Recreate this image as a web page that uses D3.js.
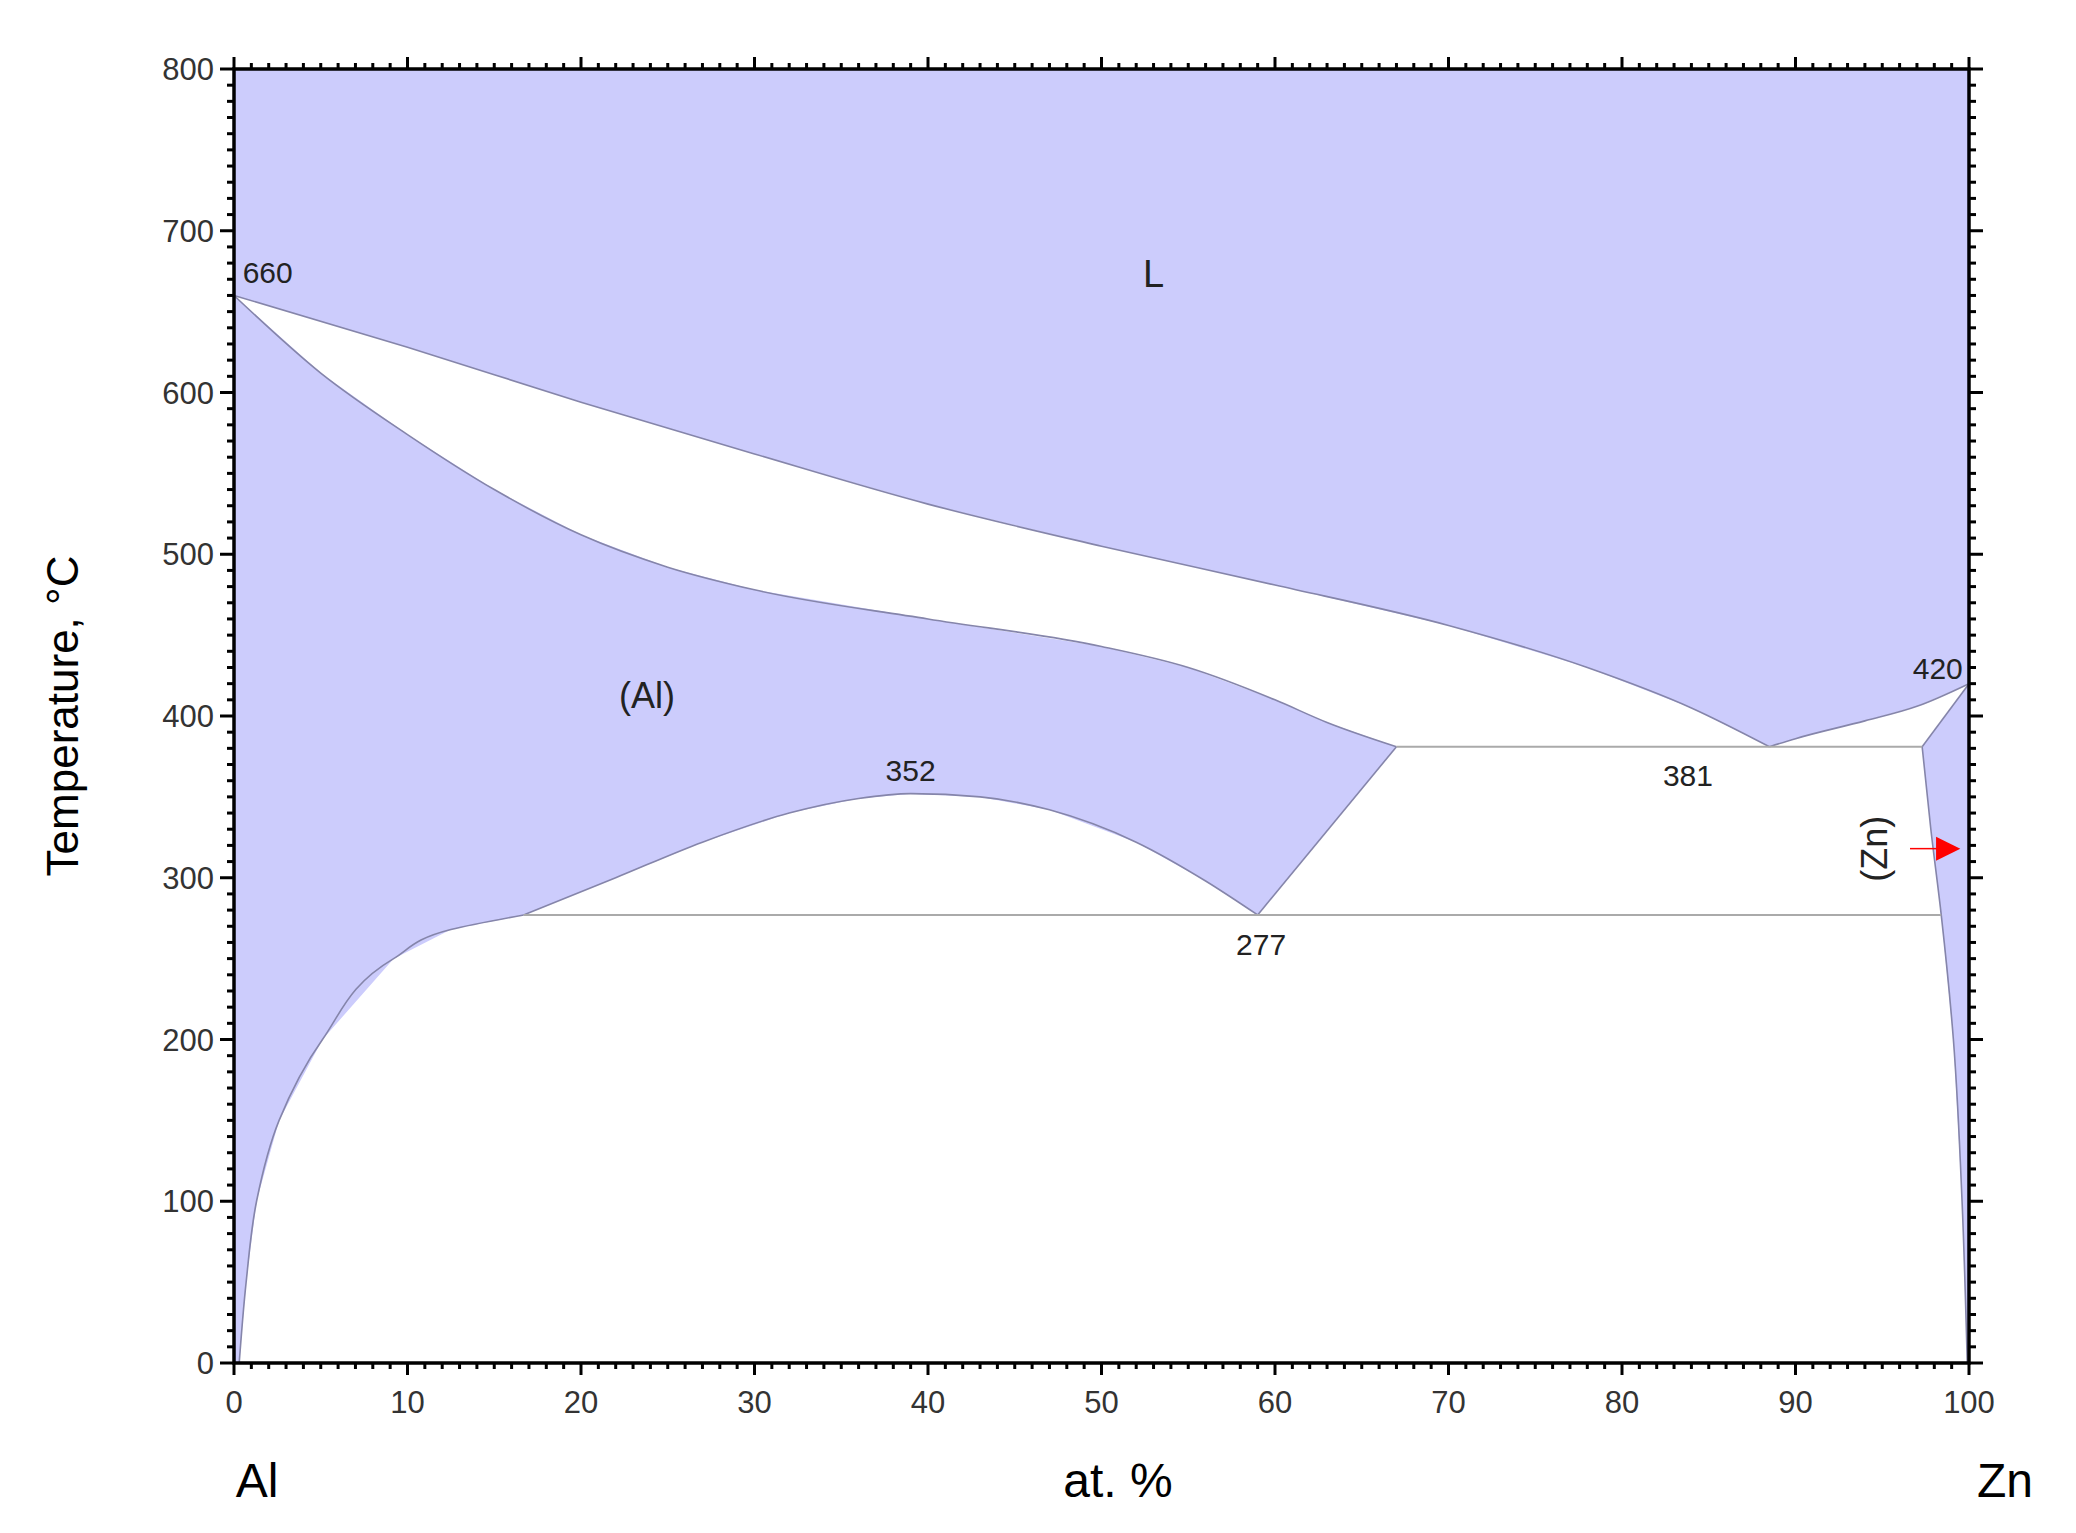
<!DOCTYPE html>
<html><head><meta charset="utf-8">
<script src="https://cdn.jsdelivr.net/npm/d3@7"></script>
<style>body{margin:0;background:#fff}text{font-family:Arial,"Liberation Sans",sans-serif}</style>
</head><body><div id="chart"></div>
<script>
// phase boundaries: [at.% Zn, temperature °C]
const liquidusAl = [[0,660],[10,628],[20,594],[30,562],[40,531],[50,505],[60,481],[70,456],[78,430],[84,405],[88.5,381]]
const liquidusZnSide = [[88.5,381],[90,386],[94,397],[97,406],[100,420]]
const solidusAl = [[0,660],[5,612],[10,574],[15,540],[20,512],[25,492],[30,478],[40,460],[50,443],[55,430],[60,410],[63,396],[67,381]]
const solvusAl = [[0.3,0],[0.7,50],[1.3,100],[2.6,150],[5.1,200],[9.2,250],[12.5,268],[16.7,277]]
const gap = [[16.7,277],[22,300],[27,322],[32,340],[36,349],[39,352],[43,350],[47,342],[52,322],[56,298],[59,277]]
const gapToEut = [[59,277],[67,381]]
const solvusZn = [[97.3,381],[97.8,330],[98.4,277],[99.1,200],[99.6,100],[99.9,0]]
const liquidusZn = [[100,420],[97.3,381]]
const eutectic = [[67,381],[97.3,381]]
const eutectoid = [[16.7,277],[98.4,277]]
const labels = [
  {t:'660', x:0.5, y:668, size:30, anchor:'start'},
  {t:'L', x:53, y:665, size:38, anchor:'middle'},
  {t:'(Al)', x:23.8, y:405, size:36, anchor:'middle'},
  {t:'352', x:39, y:360, size:30, anchor:'middle'},
  {t:'277', x:59.2, y:252, size:30, anchor:'middle'},
  {t:'381', x:83.8, y:357, size:30, anchor:'middle'},
  {t:'420', x:98.2, y:423, size:30, anchor:'middle'}
]
const xTicks = d3.range(0, 101, 10)
const yTicks = d3.range(0, 801, 100)

const W = 2076, H = 1533
const m = {left: 234, right: 107, top: 69, bottom: 170}
const svg = d3.select('#chart').append('svg').attr('width', W).attr('height', H)
const x = d3.scaleLinear().domain([0, 100]).range([m.left, W - m.right])
const y = d3.scaleLinear().domain([0, 800]).range([H - m.bottom, m.top])
const line = d3.line().x(d => x(d[0])).y(d => y(d[1]))
const curve = d3.line().x(d => x(d[0])).y(d => y(d[1])).curve(d3.curveMonotoneX)
const curveY = d3.line().x(d => x(d[0])).y(d => y(d[1])).curve(d3.curveMonotoneY)

const fill = '#ccccfc', edge = '#8585aa'
svg.append('rect').attr('x', x(0)).attr('y', y(800)).attr('width', x(100) - x(0)).attr('height', y(0) - y(800)).attr('fill', fill)

// white two-phase regions
const upper = liquidusAl.concat(liquidusZnSide.slice(1), [[97.3,381]], solidusAl.slice().reverse())
svg.append('path').attr('d', line(upper)).attr('fill', '#fff')
const lower = [].concat(eutectic, solvusZn, solvusAl, gap, gapToEut)
svg.append('path').attr('d', line(lower)).attr('fill', '#fff')

const bounds = svg.append('g').attr('fill', 'none').attr('stroke', edge).attr('stroke-width', 1.6)
;[liquidusAl, liquidusZnSide, solidusAl, gap, gapToEut, liquidusZn].forEach(p => bounds.append('path').attr('d', curve(p)))
;[solvusAl, solvusZn].forEach(p => bounds.append('path').attr('d', curveY(p)))
;[eutectic, eutectoid].forEach(p => svg.append('path').attr('d', line(p)).attr('fill', 'none').attr('stroke', '#aaa').attr('stroke-width', 2))

// axes
const ax = svg.append('g').attr('stroke', '#000')
ax.append('rect').attr('x', x(0)).attr('y', y(800)).attr('width', x(100) - x(0)).attr('height', y(0) - y(800)).attr('fill', 'none').attr('stroke-width', 3.5)
d3.range(0, 101, 1).forEach(v => {
  const L = v % 10 === 0 ? 12 : 6
  ax.append('line').attr('x1', x(v)).attr('x2', x(v)).attr('y1', y(0)).attr('y2', y(0) + L).attr('stroke-width', 3)
  ax.append('line').attr('x1', x(v)).attr('x2', x(v)).attr('y1', y(800)).attr('y2', y(800) - L).attr('stroke-width', 3)
})
d3.range(0, 801, 10).forEach(v => {
  const L = v % 100 === 0 ? 14 : 7
  ax.append('line').attr('y1', y(v)).attr('y2', y(v)).attr('x1', x(0)).attr('x2', x(0) - L).attr('stroke-width', 3)
  ax.append('line').attr('y1', y(v)).attr('y2', y(v)).attr('x1', x(100)).attr('x2', x(100) + L).attr('stroke-width', 3)
})
svg.append('g').selectAll('text').data(xTicks).join('text')
  .attr('x', d => x(d)).attr('y', y(0) + 50).attr('text-anchor', 'middle').attr('font-size', 31).attr('fill', '#333').text(d => d)
svg.append('g').selectAll('text').data(yTicks).join('text')
  .attr('x', x(0) - 20).attr('y', d => y(d) + 11).attr('text-anchor', 'end').attr('font-size', 31).attr('fill', '#333').text(d => d)

svg.append('text').attr('transform', `translate(78,${(y(0) + y(800)) / 2}) rotate(-90)`).attr('text-anchor', 'middle').attr('font-size', 44).text('Temperature, °C')
svg.append('text').attr('x', 257).attr('y', 1497).attr('text-anchor', 'middle').attr('font-size', 48).text('Al')
svg.append('text').attr('x', 1118).attr('y', 1497).attr('text-anchor', 'middle').attr('font-size', 48).text('at. %')
svg.append('text').attr('x', 2005).attr('y', 1497).attr('text-anchor', 'middle').attr('font-size', 48).text('Zn')

svg.append('g').selectAll('text').data(labels).join('text')
  .attr('x', d => x(d.x)).attr('y', d => y(d.y)).attr('text-anchor', d => d.anchor)
  .attr('font-size', d => d.size).attr('fill', '#222').text(d => d.t)
svg.append('text').attr('transform', `translate(${x(95.3)},${y(318)}) rotate(-90)`).attr('text-anchor', 'middle').attr('font-size', 36).attr('fill', '#222').text('(Zn)')
// red arrow into the (Zn) field
svg.append('line').attr('x1', x(96.6)).attr('x2', x(98.3)).attr('y1', y(318)).attr('y2', y(318)).attr('stroke', 'red').attr('stroke-width', 1.5)
svg.append('path').attr('d', d3.line()([[x(98.1), y(318) - 12], [x(99.5), y(318)], [x(98.1), y(318) + 12]])).attr('fill', 'red')
</script></body></html>
